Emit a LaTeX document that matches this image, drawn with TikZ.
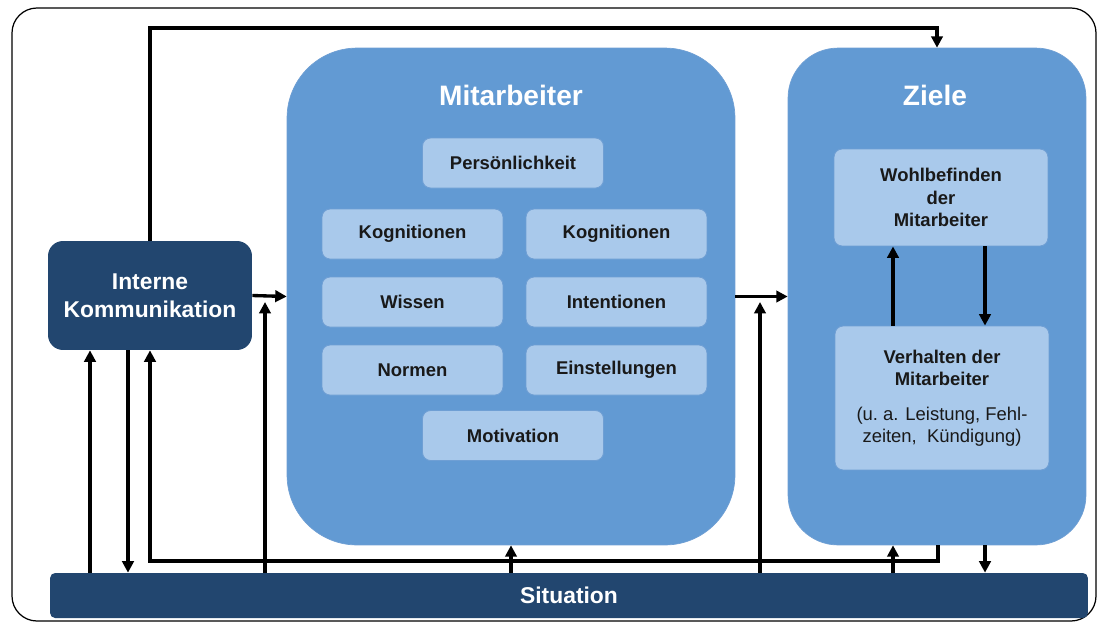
\documentclass[tikz,border=0pt]{standalone}
\usepackage{fontspec}
\setmainfont{Liberation Sans}
\usetikzlibrary{arrows.meta}
\definecolor{sitblue}{HTML}{22466F}
\definecolor{midblue}{HTML}{629AD3}
\definecolor{lightblue}{HTML}{A9C9EB}
\definecolor{edgeblue}{HTML}{6F9FD4}

\begin{document}
\begin{tikzpicture}[x=0.02cm,y=-0.02cm,>={Triangle[length=6.5pt,width=6.5pt]},line cap=butt,
  arr/.style={->,line width=1.9pt},
  bigbox/.style={fill=midblue,draw=edgeblue,line width=0.4pt,rounded corners=#1},
  titletext/.style={text=white,font=\fontsize{16}{19}\selectfont\bfseries},
  darkbox/.style={fill=sitblue,draw=none,text=white,font=\fontsize{13}{16}\selectfont\bfseries,align=center},
  itembox/.style={fill=lightblue,draw=edgeblue,line width=0.5pt,rounded corners=0.16cm,text=black!90,
    minimum width=3.62cm,minimum height=1cm,font=\fontsize{10.5}{12.7}\selectfont\bfseries,align=center}]
\useasboundingbox (0,0) rectangle (1098,623);
\draw[line width=0.7pt,rounded corners=0.5cm] (12,8) rectangle (1096,621);

\node[darkbox,rounded corners=0.3cm,minimum width=4.08cm,minimum height=2.18cm] (intk) at (150,295.5) {Interne\\Kommunikation};
\node[bigbox=1.4cm,minimum width=8.96cm,minimum height=9.94cm] (mit) at (511,296.5) {};
\node[titletext] (mittitle) at (511,95) {Mitarbeiter};
\node[bigbox=1cm,minimum width=5.96cm,minimum height=9.94cm] (ziele) at (937,296.5) {};
\node[titletext] (zieletitle) at (935,95) {Ziele};
\node[darkbox,rounded corners=0.1cm,minimum width=20.76cm,minimum height=0.9cm] (sit) at (569,595.5) {Situation};

\node[itembox] (pers) at (513,163) {Persönlichkeit};
\node[itembox] (kogl) at (412.5,234) {Kognitionen};
\node[itembox] (kogr) at (616.5,234) {Kognitionen};
\node[itembox] (wiss) at (412.5,302) {Wissen};
\node[itembox] (inten) at (616.5,302) {Intentionen};
\node[itembox] (norm) at (412.5,370) {Normen};
\node[itembox] (einst) at (616.5,370) {Einstellungen};
\node[itembox] (motiv) at (513,435.5) {Motivation};

\node[itembox,minimum width=4.28cm,minimum height=1.94cm] (wohl) at (941,197.5) {Wohlbefinden\\der\\Mitarbeiter};
\node[itembox,minimum width=4.28cm,minimum height=2.88cm] (verh) at (942,398)
  {Verhalten der\\Mitarbeiter\\[7pt]{\mdseries (u.\ a. Leistung, Fehl-}\\{\mdseries zeiten, \ Kündigung)}};

\coordinate (topline) at (150,28);
\coordinate (botline) at (938,561);
\coordinate (ikend) at (265,302);
\coordinate (zend) at (760,302);

\draw[arr] (intk.north) -- (topline) -| (ziele.north);
\draw[arr] (intk.east) -- (mit.west);
\draw[arr] (mit.east) -- (ziele.west);
\draw[arr] (sit.north -| ikend) -- (ikend);
\draw[arr] (sit.north -| zend) -- (zend);
\draw[arr] (sit.north -| 90,0) -- (intk.south -| 90,0);
\draw[arr] (intk.south -| 128,0) -- (sit.north -| 128,0);
\draw[arr] (ziele.south -| botline) -- (botline) -| (intk.south);
\draw[arr] (sit.north -| mit.south) -- (mit.south);
\draw[arr] (sit.north -| 893,0) -- (ziele.south -| 893,0);
\draw[arr] (ziele.south -| 985,0) -- (sit.north -| 985,0);
\draw[arr] (verh.north -| 893,0) -- (wohl.south -| 893,0);
\draw[arr] (wohl.south -| 985,0) -- (verh.north -| 985,0);
\end{tikzpicture}
\end{document}
